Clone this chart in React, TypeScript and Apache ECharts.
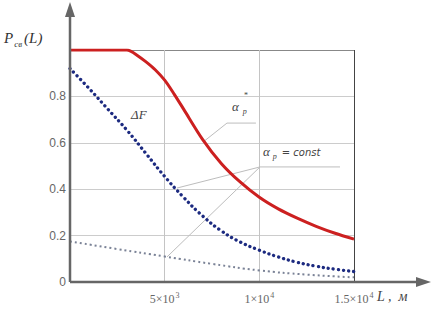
import React, { useEffect, useRef } from "react";
import * as echarts from "echarts";

const W = 433;
const H = 312;

// Curves: L (m) and probability values
const redL = [0, 1000, 2000, 3000, 3200, 3500, 4000, 4500, 5000, 5500, 6000, 7000, 8000, 9000, 10000, 11000, 12000, 13000, 14000, 15000];
const redV = [1.0, 1.0, 1.0, 1.0, 0.995, 0.98, 0.95, 0.915, 0.87, 0.81, 0.745, 0.615, 0.51, 0.43, 0.365, 0.315, 0.275, 0.24, 0.21, 0.185];

const blueL = [0, 1000, 2000, 3000, 4000, 5000, 6000, 7000, 8000, 9000, 10000, 11000, 12000, 13000, 14000, 15000];
const blueV = [0.92, 0.835, 0.745, 0.655, 0.555, 0.455, 0.365, 0.285, 0.22, 0.172, 0.137, 0.108, 0.085, 0.068, 0.055, 0.045];

const grayL = [0, 2500, 5000, 7500, 10000, 12500, 15000];
const grayV = [0.175, 0.142, 0.11, 0.078, 0.05, 0.032, 0.02];

// Leader lines for annotations (data coordinates)
const leaderStarL = [7025, 8290, 9820];
const leaderStarV = [0.603, 0.685, 0.685];
const leaderConstAL = [14260, 10035, 5651];
const leaderConstAV = [0.496, 0.496, 0.405];
const leaderConstBL = [10035, 5123];
const leaderConstBV = [0.496, 0.108];

const xTicks = [0, 5000, 10000, 15000];
const xTickMant = ["", "5×10", "1×10", "1.5×10"];
const xTickExp = ["", "3", "4", "4"];
const yTicks = [0, 0.2, 0.4, 0.6, 0.8, 1.0];
const yTickLabels = ["0", "0.2", "0.4", "0.6", "0.8", ""];

const zip = (a: number[], b: number[]) => a.map((v, i) => [v, b[i]]);

export default function App() {
  const ref = useRef<HTMLDivElement>(null);
  useEffect(() => {
    document.body.style.margin = "0";
    const chart = echarts.init(ref.current!, undefined, { renderer: "svg" });
    const gl = 70, gt = 50, gw = 284, gh = 232;
    const serif = "Liberation Serif";
    const leader = (l: number[], v: number[]) => ({
      type: "line",
      data: zip(l, v),
      symbol: "none",
      silent: true,
      z: 1,
      lineStyle: { color: "#bdbdbd", width: 1 },
    });
    chart.setOption({
      animation: false,
      backgroundColor: "#fff",
      grid: { left: gl, top: gt, width: gw, height: gh },
      xAxis: {
        type: "value",
        min: 0,
        max: 15000,
        interval: 5000,
        axisLine: { show: false },
        axisTick: { show: false },
        splitLine: { show: true, lineStyle: { color: ["#ccc", "#c4c4c4", "#c4c4c4", "#444"], width: 1 } },
        axisLabel: {
          margin: 9,
          color: "#666",
          fontFamily: serif,
          fontSize: 12,
          formatter: (v: number) => {
            const i = xTicks.indexOf(v);
            if (i <= 0) return "";
            return `{n|${xTickMant[i]}}{s|${xTickExp[i]}}`;
          },
          rich: {
            n: { fontFamily: serif, fontSize: 12, color: "#666" },
            s: { fontFamily: serif, fontSize: 8, color: "#666", padding: [0, 0, 8, 1] },
          },
        },
      },
      yAxis: {
        type: "value",
        min: 0,
        max: 1,
        interval: 0.2,
        axisLine: { show: false },
        axisTick: { show: false },
        splitLine: { show: true, lineStyle: { color: ["#ccc", "#ccc", "#ccc", "#ccc", "#ccc", "#888"], width: 1 } },
        axisLabel: {
          margin: 4,
          color: "#666",
          fontFamily: "Liberation Sans",
          fontSize: 12,
          formatter: (v: number) => {
            const i = yTicks.findIndex((t) => Math.abs(t - v) < 1e-6);
            return i >= 0 ? yTickLabels[i] : "";
          },
        },
      },
      series: [
        leader(leaderStarL, leaderStarV),
        leader(leaderConstAL, leaderConstAV),
        leader(leaderConstBL, leaderConstBV),
        {
          type: "line",
          data: zip(grayL, grayV),
          symbol: "none",
          smooth: true,
          z: 3,
          lineStyle: { color: "#7a8296", width: 2, type: [2, 3] },
        },
        {
          type: "line",
          data: zip(blueL, blueV),
          symbol: "none",
          smooth: true,
          z: 4,
          lineStyle: { color: "#1c2a80", width: 3.3, type: [0.1, 5], cap: "round" },
        },
        {
          type: "line",
          data: zip(redL, redV),
          symbol: "none",
          smooth: 0.3,
          z: 5,
          lineStyle: { color: "#cc2020", width: 3 },
        },
      ],
    });

    const ax = gl, ay = gt + gh;
    const axisColor = "#666";
    chart.setOption({
      graphic: [
        { type: "line", shape: { x1: ax, y1: ay, x2: ax, y2: 14 }, style: { stroke: axisColor, lineWidth: 2.5 }, z: 10 },
        { type: "polygon", shape: { points: [[ax, 2], [ax - 5, 17], [ax + 5, 17]] }, style: { fill: axisColor }, z: 10 },
        { type: "line", shape: { x1: ax, y1: ay, x2: 418, y2: ay }, style: { stroke: axisColor, lineWidth: 2.5 }, z: 10 },
        { type: "polygon", shape: { points: [[431, ay], [416, ay - 5], [416, ay + 5]] }, style: { fill: axisColor }, z: 10 },
        {
          type: "text",
          left: 4,
          top: 30,
          style: {
            text: "{p|P}{s|св}{n|(L)}",
            rich: {
              p: { fontFamily: serif, fontStyle: "italic", fontSize: 15, fill: "#333" },
              s: { fontFamily: serif, fontStyle: "italic", fontSize: 9, fill: "#333", padding: [12, 2, 0, 1] },
              n: { fontFamily: serif, fontStyle: "italic", fontSize: 15, fill: "#333" },
            },
          },
        },
        {
          type: "text",
          left: 377,
          top: 289,
          style: { text: "L ,  м", fontFamily: serif, fontStyle: "italic", fontSize: 14, fill: "#444" },
        },
        {
          type: "text",
          left: 131,
          top: 108,
          style: { text: "ΔF", fontFamily: serif, fontStyle: "italic", fontSize: 13, fill: "#444" },
        },
        {
          type: "text",
          left: 232,
          top: 100,
          style: {
            text: "{a|α}{s|p}",
            rich: {
              a: { fontFamily: serif, fontStyle: "italic", fontSize: 13, fill: "#444" },
              s: { fontFamily: serif, fontStyle: "italic", fontSize: 8, fill: "#444", padding: [10, 0, 0, 4] },
            },
          },
        },
        {
          type: "text",
          left: 244,
          top: 91,
          style: { text: "*", fontFamily: serif, fontSize: 8, fill: "#444" },
        },
        {
          type: "text",
          left: 263,
          top: 145,
          style: {
            text: "{a|α}{s|p}{c|= const}",
            rich: {
              a: { fontFamily: serif, fontStyle: "italic", fontSize: 13, fill: "#444" },
              s: { fontFamily: serif, fontStyle: "italic", fontSize: 8, fill: "#444", padding: [10, 5, 0, 3] },
              c: { fontFamily: "DejaVu Sans", fontStyle: "italic", fontSize: 10, fill: "#444", padding: [2, 0, 0, 0] },
            },
          },
        },
      ],
    });
    return () => chart.dispose();
  }, []);
  return <div ref={ref} style={{ width: W, height: H }} />;
}
